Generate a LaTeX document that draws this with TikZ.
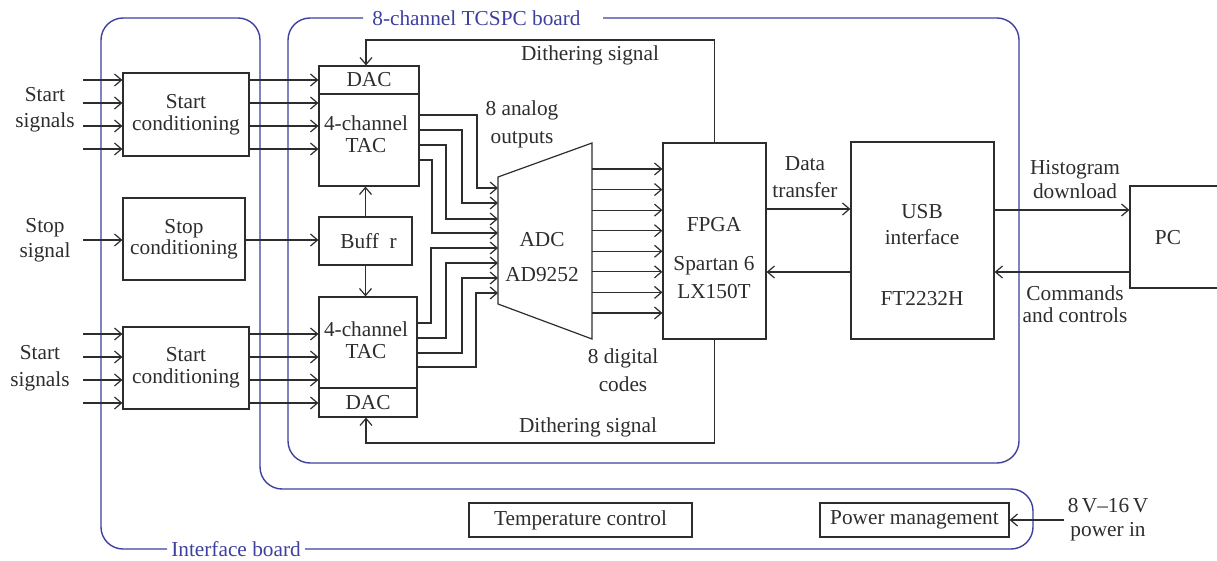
\documentclass[tikz,border=0pt]{standalone}
\usepackage{fontspec}
\setmainfont{Liberation Serif}
\usetikzlibrary{arrows.meta,calc}
\definecolor{ln}{RGB}{45,45,45}
\definecolor{bl}{RGB}{62,64,160}
\newcommand\fsz[1]{\fontsize{21.3}{#1}\selectfont}
\begin{document}
\begin{tikzpicture}[x=1pt,y=-1pt,
  box/.style={draw=ln, line width=1.2pt, inner sep=0pt, align=center, text=ln, font=\fsz{22}},
  txt/.style={inner sep=0pt, align=center, text=ln, font=\fsz{26}},
  btxt/.style={inner sep=0pt, text=bl, font=\fsz{26}},
  wire/.style={draw=ln, line width=1.2pt},
  arr/.style={draw=ln, line width=1.2pt, -{Straight Barb[length=7pt,width=12pt]}},
  board/.style={draw=bl, line width=1.4pt, rounded corners=22pt}]
\useasboundingbox (0,0) rectangle (1217,561);

% boards
\draw[board] (603,18) -- (1019,18) -- (1019,463) -- (288,463) -- (288,18) -- (363,18);
\node[btxt, anchor=base] (tcspcL) at (476.5,25.5) {8-channel TCSPC board};
\draw[board] (305,549) -- (1033,549) -- (1033,489) -- (260,489) -- (260,18) -- (101,18) -- (101,549) -- (167,549);
\node[btxt, anchor=base] (ifL) at (236,556.5) {Interface board};

% coordinates
\coordinate (inL) at (83,0);
\coordinate (adcL) at (498,0);
\coordinate (adcR) at (592,0);

% left blocks
\node[box, minimum width=126pt, minimum height=83pt] (sc1) at (186,114.5) {Start\\conditioning};
\node[box, minimum width=122pt, minimum height=82pt, font=\fsz{21}] (stc) at (184,239) {Stop\\conditioning};
\node[box, minimum width=126pt, minimum height=82pt] (sc2) at (186,368) {Start\\conditioning};

\node[txt] (lst1) at (45,110) {Start\\signals};
\node[txt, font=\fsz{25}] (lstop) at (45,240) {Stop\\signal};
\node[txt, font=\fsz{27}] (lst2) at (40,368) {Start\\signals};

% TACs
\node[box, minimum width=100pt, minimum height=28pt] (dac1) at (369,80) {DAC};
\node[box, minimum width=100pt, minimum height=92pt] (tac1) at (369,140) {};
\node[txt, font=\fsz{22}] (tac1t) at (366,134) {4-channel\\TAC};
\node[box, minimum width=98pt, minimum height=91pt] (tac2) at (368,342.5) {};
\node[box, minimum width=98pt, minimum height=29pt] (dac2) at (368,402.5) {DAC};
\node[txt, font=\fsz{22}] (tac2t) at (366,340) {4-channel\\TAC};
\node[box, minimum width=93pt, minimum height=48pt] (buf) at (365.5,241) {\hspace*{6pt}Buff\ \ r};

% ADC
\coordinate (a1) at (498,177);
\coordinate (a2) at (592,143);
\coordinate (a3) at (592,339);
\coordinate (a4) at (498,304);
\draw[wire, line join=miter] (a1) -- (a2) -- (a3) -- (a4) -- cycle;
\node[txt] (adct) at (542,240) {ADC};
\node[txt] (adct2) at (542,275) {AD9252};

% FPGA, USB, PC
\node[box, minimum width=103pt, minimum height=196pt] (fpga) at (714.5,241) {};
\node[txt] (fp1) at (714,225) {FPGA};
\node[txt] (fp2) at (714,266) {Spartan 6};
\node[txt] (fp3) at (714,292) {LX150T};
\node[box, minimum width=143pt, minimum height=197pt] (usb) at (922.5,240.5) {};
\node[txt] (us1) at (922,212) {USB};
\node[txt] (us2) at (922,237) {interface};
\node[txt] (us3) at (922,299) {FT2232H};
\node[box, minimum width=110pt, minimum height=102pt] (pc) at (1185,237) {};
\node[txt] (pct) at (1168,238) {PC};

% bottom boxes
\node[box, minimum width=223pt, minimum height=34pt] (temp) at (580.5,520) {Temperature control};
\node[box, minimum width=189pt, minimum height=34pt] (pm) at (914.5,520) {Power management};
\coordinate (pin) at (1064,520);
\draw[arr] (pin) -- (pm.east |- pin);
\node[txt, font=\fsz{24}] (pinT) at (1108,520) {8\,V--16\,V\\power in};

% inputs and conditioning outputs
\foreach \y in {80,103,126,149}{
  \draw[arr] (inL |- 0,\y) -- (sc1.west |- 0,\y);
  \draw[arr] (sc1.east |- 0,\y) -- (tac1.west |- 0,\y);
}
\foreach \y in {334,357,380,403}{
  \draw[arr] (inL |- 0,\y) -- (sc2.west |- 0,\y);
  \draw[arr] (sc2.east |- 0,\y) -- (tac2.west |- 0,\y);
}
\draw[arr] (inL |- 0,240) -- (stc.west |- 0,240);
\draw[arr] (stc.east |- 0,240) -- (buf.west |- 0,240);
\draw[arr] (buf.north) -- (buf.north |- tac1.south);
\draw[arr] (buf.south) -- (buf.south |- tac2.north);

% TAC to ADC
\foreach \ys/\xv/\ya in {115/477/188, 130/462/203, 145/446/219, 160/432/233}{
  \draw[arr] (tac1.east |- 0,\ys) -| (\xv,\ya) -- (adcL |- 0,\ya);
}
\foreach \ys/\xv/\ya in {323/431/248, 338/446/263, 353/462/278, 367/476/293}{
  \draw[arr] (tac2.east |- 0,\ys) -| (\xv,\ya) -- (adcL |- 0,\ya);
}
\node[txt, font=\fsz{28}] (ana) at (522,124) {8 analog\\outputs};

% ADC to FPGA
\foreach \i [evaluate=\i as \y using 169+20.57*\i] in {0,...,7}{
  \draw[arr] (adcR |- 0,\y) -- (fpga.west |- 0,\y);
}
\node[txt, font=\fsz{28}] (dig) at (623,370) {8 digital\\codes};

% dithering
\coordinate (dt) at (366,40);
\draw[arr] (fpga.north) |- (dt) -- (dt |- dac1.north);
\node[txt] (dthT) at (590,55) {Dithering signal};
\coordinate (db) at (366,443);
\draw[arr] (fpga.south) |- (db) -- (db |- dac2.south);
\node[txt] (dthB) at (588,427) {Dithering signal};

% FPGA <-> USB <-> PC
\draw[arr] (fpga.east |- 0,209) -- (usb.west |- 0,209);
\draw[arr] (usb.west |- 0,272) -- (fpga.east |- 0,272);
\node[txt, font=\fsz{27}] (dtr) at (805,177) {Data\\transfer};
\draw[arr] (usb.east |- 0,210) -- (pc.west |- 0,210);
\draw[arr] (pc.west |- 0,272) -- (usb.east |- 0,272);
\node[txt, font=\fsz{24}] (hist) at (1075,180) {Histogram\\download};
\node[txt, font=\fsz{22}] (cmd) at (1075,304) {Commands\\and controls};
\end{tikzpicture}
\end{document}
